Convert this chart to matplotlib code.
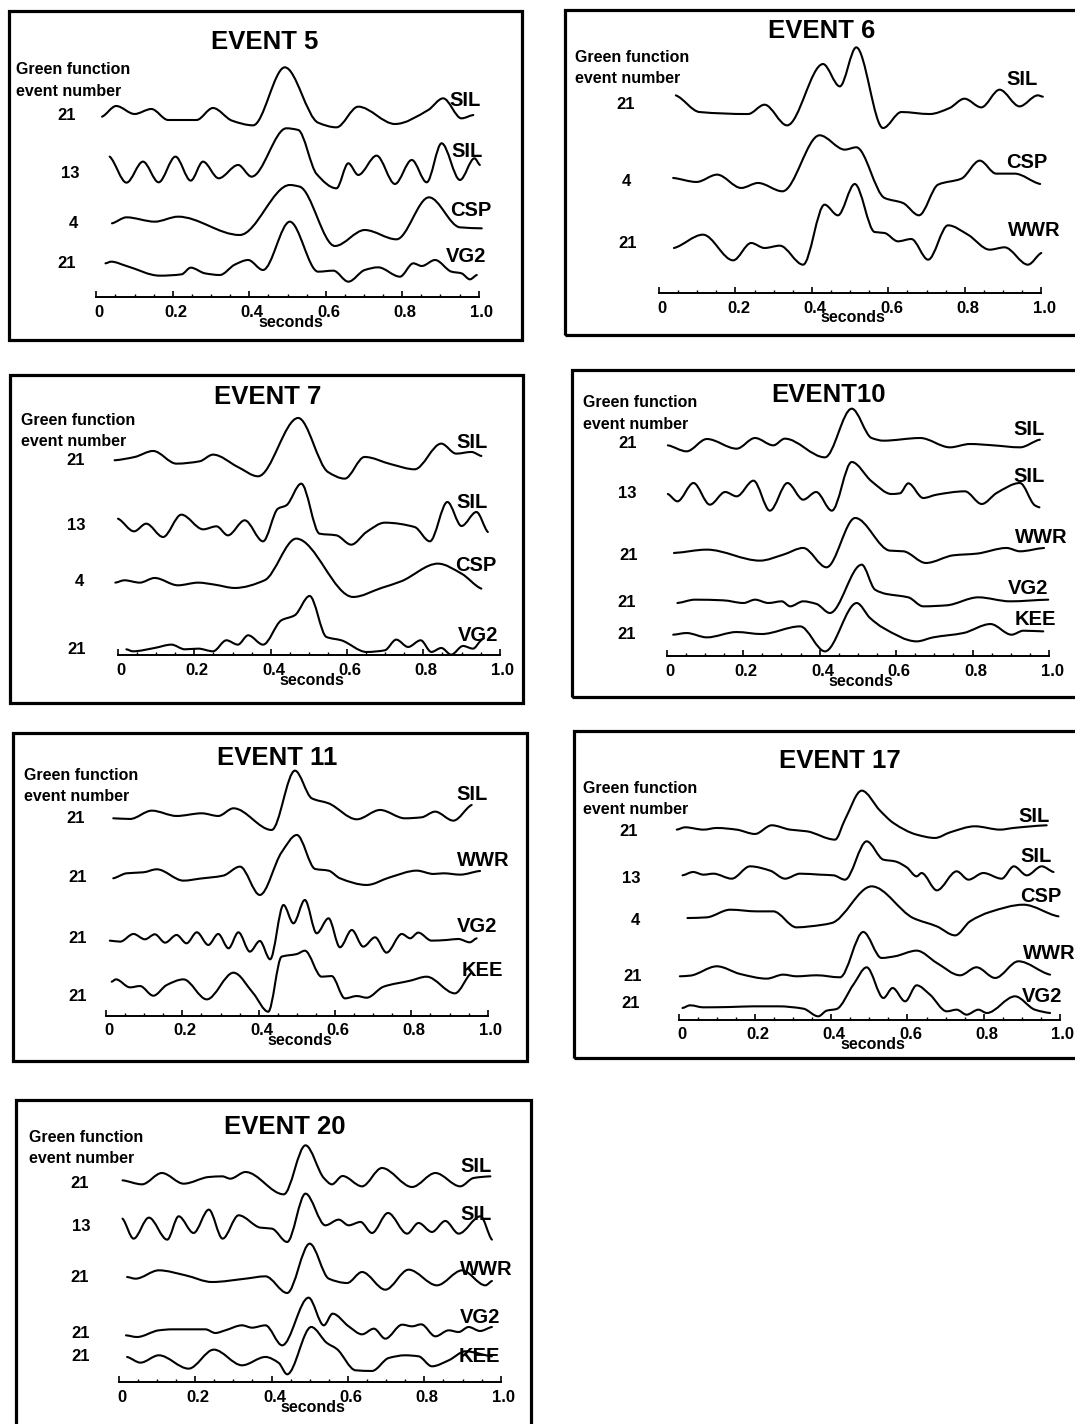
import numpy as np
import matplotlib
matplotlib.use('Agg')
import matplotlib.pyplot as plt
from matplotlib.path import Path
from matplotlib.patches import PathPatch, Rectangle
from matplotlib.transforms import ScaledTranslation

plt.rcParams['font.family'] = ['Liberation Sans', 'DejaVu Sans']

# ---- data: times (s) and amplitudes (arbitrary units) ----
ev5_green = ['21', '13', '4', '21']
ev5_stations = ['SIL', 'SIL', 'CSP', 'VG2']
ev5_t = [
    [0.015, 0.052, 0.100, 0.144, 0.188, 0.262, 0.305, 0.355, 0.410, 0.493, 0.580, 0.628, 0.685, 0.781, 0.868, 0.907, 0.955, 0.986],
    [0.035, 0.079, 0.122, 0.163, 0.207, 0.247, 0.279, 0.320, 0.371, 0.406, 0.497, 0.528, 0.576, 0.628, 0.659, 0.685, 0.733, 0.781, 0.825, 0.864, 0.903, 0.951, 0.989, 1.003],
    [0.041, 0.079, 0.153, 0.214, 0.375, 0.506, 0.532, 0.624, 0.702, 0.785, 0.870, 0.951, 1.008],
    [0.024, 0.039, 0.079, 0.166, 0.223, 0.247, 0.284, 0.323, 0.362, 0.397, 0.436, 0.506, 0.580, 0.620, 0.659, 0.702, 0.737, 0.794, 0.829, 0.851, 0.886, 0.929, 0.955, 0.977, 0.995],
]
ev5_a = [
    [-2, 30, 6, 21, -12, -12, 24, -14, -28, 146, -20, -34, 28, -24, 18, 53, -7, 3],
    [50, -28, 35, -27, 50, -22, 35, -15, 25, -10, 135, 130, -2, -45, 30, -5, 53, -32, 40, -27, 90, -20, 45, 25],
    [2, 20, 7, 22, -33, 117, 112, -66, -18, -46, 80, -10, -13],
    [2, 7, -6, -35, -31, -11, -28, -33, -2, 12, -18, 127, -23, -20, -53, -18, -10, -38, 2, -6, 12, -23, -28, -46, -33],
]

ev6_green = ['21', '4', '21']
ev6_stations = ['SIL', 'CSP', 'WWR']
ev6_t = [
    [0.044, 0.106, 0.233, 0.276, 0.335, 0.429, 0.473, 0.516, 0.586, 0.634, 0.708, 0.760, 0.799, 0.843, 0.891, 0.943, 0.991, 1.004],
    [0.037, 0.098, 0.152, 0.215, 0.259, 0.323, 0.420, 0.486, 0.516, 0.590, 0.638, 0.680, 0.730, 0.791, 0.839, 0.882, 0.930, 0.997],
    [0.039, 0.115, 0.194, 0.241, 0.276, 0.316, 0.377, 0.433, 0.468, 0.512, 0.564, 0.590, 0.625, 0.660, 0.704, 0.756, 0.808, 0.865, 0.904, 0.965, 1.000],
]
ev6_a = [
    [28, -22, -28, 0, -62, 122, 55, 172, -70, -22, -28, -10, 18, -8, 45, -5, 28, 24],
    [10, -2, 20, -20, -5, -30, 138, 95, 102, -50, -65, -102, -10, 8, 62, 23, 23, -8],
    [-15, 25, -52, 0, -15, -8, -65, 115, 83, 177, 33, 30, 5, 12, -50, 53, 25, -20, -13, -65, -30],
]

ev7_green = ['21', '13', '4', '21']
ev7_stations = ['SIL', 'SIL', 'CSP', 'VG2']
ev7_t = [
    [-0.009, 0.044, 0.092, 0.153, 0.214, 0.249, 0.314, 0.367, 0.472, 0.550, 0.594, 0.646, 0.716, 0.777, 0.847, 0.886, 0.926, 0.952],
    [0.000, 0.042, 0.074, 0.118, 0.166, 0.223, 0.258, 0.288, 0.332, 0.380, 0.419, 0.441, 0.480, 0.528, 0.572, 0.611, 0.651, 0.699, 0.777, 0.817, 0.863, 0.900, 0.939, 0.969],
    [-0.007, 0.017, 0.057, 0.096, 0.157, 0.210, 0.253, 0.306, 0.384, 0.467, 0.616, 0.690, 0.742, 0.838, 0.900, 0.952],
    [0.022, 0.039, 0.096, 0.140, 0.175, 0.210, 0.249, 0.284, 0.314, 0.341, 0.380, 0.428, 0.463, 0.502, 0.546, 0.585, 0.651, 0.699, 0.729, 0.760, 0.793, 0.821, 0.847, 0.873, 0.904, 0.930, 0.952],
]
ev7_a = [
    [0, 10, 28, -10, -3, 17, -20, -48, 127, -35, -55, 10, -12, -27, 50, 20, 25, 13],
    [22, -16, 7, -33, 34, -10, -1, -28, 17, -46, 52, 62, 127, -23, -28, -56, -18, 10, -3, -46, 72, 0, 42, -18],
    [-4, 3, -4, 10, -12, -4, -10, -20, 3, 128, -47, -20, 0, 53, 23, -22],
    [0, -6, 4, 14, 0, 2, -6, 27, 14, 42, 14, 87, 102, 160, 37, 27, -8, -3, 29, 7, 27, -8, 4, -16, 10, 2, 27],
]

ev10_green = ['21', '13', '21', '21', '21']
ev10_stations = ['SIL', 'SIL', 'WWR', 'VG2', 'KEE']
ev10_t = [
    [0.003, 0.052, 0.105, 0.183, 0.231, 0.279, 0.309, 0.414, 0.484, 0.536, 0.567, 0.663, 0.741, 0.793, 0.854, 0.924, 0.976],
    [0.003, 0.028, 0.070, 0.113, 0.153, 0.183, 0.227, 0.270, 0.316, 0.357, 0.391, 0.432, 0.484, 0.536, 0.588, 0.610, 0.632, 0.671, 0.706, 0.780, 0.824, 0.863, 0.924, 0.963, 0.975],
    [0.019, 0.105, 0.244, 0.305, 0.357, 0.418, 0.493, 0.584, 0.619, 0.678, 0.750, 0.811, 0.889, 0.924, 0.987],
    [0.028, 0.074, 0.148, 0.201, 0.231, 0.266, 0.301, 0.323, 0.357, 0.392, 0.427, 0.510, 0.545, 0.575, 0.606, 0.632, 0.671, 0.732, 0.815, 0.898, 0.998],
    [0.017, 0.052, 0.105, 0.183, 0.248, 0.349, 0.414, 0.497, 0.532, 0.567, 0.654, 0.697, 0.776, 0.847, 0.902, 0.933, 0.985],
]
ev10_a = [
    [-4, -22, 15, -14, 18, -4, 16, -40, 106, 18, 10, 18, -10, 0, -4, -10, 13],
    [0, -22, 33, -32, 6, -7, 40, -50, 33, -17, 6, -50, 96, 38, 0, 2, 32, -12, -2, 8, -30, 3, 33, -34, -40],
    [7, 17, -16, 2, 22, -36, 112, 14, 12, -23, 0, 5, 22, 12, 22],
    [0, 10, 8, 0, 10, 0, 5, -10, 5, -3, -30, 115, 40, 27, 22, 17, -10, -7, 17, 5, 10],
    [0, 5, -8, 8, 2, 25, -50, 95, 50, 20, -20, -8, 5, 32, 0, 12, 10],
]

ev11_green = ['21', '21', '21', '21']
ev11_stations = ['SIL', 'WWR', 'VG2', 'KEE']
ev11_t = [
    [0.019, 0.063, 0.120, 0.185, 0.251, 0.294, 0.334, 0.434, 0.495, 0.539, 0.583, 0.657, 0.718, 0.783, 0.827, 0.862, 0.910, 0.958],
    [0.019, 0.054, 0.098, 0.133, 0.203, 0.246, 0.307, 0.351, 0.403, 0.460, 0.500, 0.548, 0.583, 0.613, 0.683, 0.744, 0.814, 0.858, 0.884, 0.928, 0.980],
    [0.010, 0.037, 0.072, 0.102, 0.128, 0.155, 0.185, 0.211, 0.238, 0.268, 0.294, 0.321, 0.347, 0.377, 0.403, 0.430, 0.465,
     0.491, 0.521, 0.552, 0.583, 0.613, 0.644, 0.674, 0.705, 0.735, 0.775, 0.797, 0.818, 0.853, 0.893, 0.923, 0.953, 0.971],
    [0.015, 0.026, 0.063, 0.089, 0.124, 0.159, 0.203, 0.264, 0.334, 0.386, 0.425, 0.460, 0.500, 0.521, 0.565, 0.591, 0.626, 0.657, 0.683, 0.727, 0.797, 0.840, 0.914, 0.958],
]
ev11_a = [
    [0, -2, 23, 7, 15, 7, 30, -35, 143, 60, 45, -3, 25, 0, 3, 20, -7, 40],
    [-3, 12, 15, 24, -10, -4, 5, 32, -53, 75, 127, 25, 20, -3, -23, 0, 20, 10, 12, 8, 19],
    [-7, -10, 13, -3, 12, -13, 10, -15, 18, -20, 13, -30, 18, -40, -8, -63, 100,
     45, 115, 15, 60, -27, 25, -25, 3, -43, 13, 0, 17, -7, -5, -2, -12, 0],
    [45, 52, 28, 32, 3, 35, 52, -8, 72, 10, -45, 120, 128, 138, 60, 62, -5, 2, -3, 30, 48, 60, 10, 72],
]

ev17_green = ['21', '13', '4', '21', '21']
ev17_stations = ['SIL', 'SIL', 'CSP', 'WWR', 'VG2']
ev17_t = [
    [-0.005, 0.017, 0.065, 0.100, 0.152, 0.200, 0.244, 0.292, 0.336, 0.410, 0.436, 0.480, 0.528, 0.563, 0.624, 0.672, 0.712, 0.777, 0.843, 0.878, 0.965],
    [0.010, 0.038, 0.065, 0.091, 0.139, 0.187, 0.240, 0.279, 0.318, 0.371, 0.406, 0.436, 0.493, 0.537, 0.567, 0.598, 0.624, 0.637, 0.677, 0.729, 0.760, 0.799, 0.847, 0.879, 0.913, 0.952, 0.983],
    [0.023, 0.073, 0.135, 0.205, 0.248, 0.309, 0.344, 0.401, 0.506, 0.615, 0.677, 0.725, 0.764, 0.816, 0.904, 0.996],
    [0.003, 0.030, 0.100, 0.161, 0.231, 0.274, 0.309, 0.362, 0.423, 0.484, 0.532, 0.567, 0.624, 0.677, 0.738, 0.781, 0.830, 0.891, 0.974],
    [0.010, 0.030, 0.065, 0.135, 0.196, 0.261, 0.327, 0.366, 0.388, 0.414, 0.458, 0.493, 0.537, 0.561, 0.594, 0.624, 0.659, 0.703, 0.729, 0.755, 0.786, 0.808, 0.882, 0.934, 0.974],
]
ev17_a = [
    [5, 12, 5, 10, 5, -8, 18, 5, 0, -25, 35, 122, 62, 25, -10, -20, -3, 15, 5, 10, 18],
    [8, 18, 10, 13, -2, 35, 22, -2, 13, 10, 8, -5, 110, 55, 50, 32, 5, 15, -37, 20, -5, 15, -2, 35, 8, 35, 18],
    [8, 10, 33, 28, 28, -20, -17, -7, 103, 8, -17, -44, -2, 26, 48, 13],
    [0, 2, 30, 7, -7, 5, 0, 3, -3, 133, 55, 60, 77, 40, 3, 27, -5, 45, 5],
    [-15, -7, -13, -12, -10, -10, -17, -40, -23, -18, 55, 107, 15, 45, 5, 53, 25, -25, -20, -35, -20, -30, 20, -20, -30],
]

ev20_green = ['21', '13', '21', '21', '21']
ev20_stations = ['SIL', 'SIL', 'WWR', 'VG2', 'KEE']
ev20_t = [
    [0.010, 0.061, 0.113, 0.170, 0.236, 0.271, 0.292, 0.332, 0.432, 0.489, 0.537, 0.558, 0.586, 0.637, 0.689, 0.768, 0.829, 0.894, 0.929, 0.973],
    [0.010, 0.039, 0.079, 0.127, 0.157, 0.196, 0.236, 0.272, 0.314, 0.371, 0.401, 0.441, 0.489, 0.541, 0.576, 0.602, 0.633, 0.663, 0.705, 0.755, 0.785, 0.820, 0.855, 0.890, 0.947, 0.977],
    [0.022, 0.044, 0.105, 0.175, 0.244, 0.332, 0.384, 0.441, 0.500, 0.550, 0.598, 0.637, 0.698, 0.759, 0.833, 0.899, 0.960, 0.977],
    [0.019, 0.048, 0.105, 0.140, 0.227, 0.253, 0.279, 0.323, 0.349, 0.384, 0.428, 0.497, 0.537, 0.560, 0.602, 0.637, 0.668, 0.698, 0.742, 0.768, 0.792, 0.829, 0.864, 0.890, 0.916, 0.946, 0.977],
    [0.022, 0.057, 0.105, 0.183, 0.249, 0.323, 0.384, 0.419, 0.441, 0.504, 0.545, 0.571, 0.620, 0.663, 0.707, 0.750, 0.785, 0.820, 0.864, 0.908, 0.977],
]
ev20_a = [
    [8, -4, 30, -2, 18, 20, 13, 33, -34, 113, 15, -4, 21, -10, 45, -12, 30, -10, 15, 20],
    [23, -37, 26, -40, 30, -20, 50, -37, 33, -4, -7, -47, 98, 3, 20, 3, 13, -20, 40, -22, 10, -17, 16, -22, 30, -40],
    [0, -5, 20, 5, -15, -5, 2, -48, 100, -5, -18, 15, -38, 22, -25, 20, -25, -12],
    [-7, -12, 8, 11, 11, 0, 8, 23, 16, 23, -37, 106, 23, 58, 20, -4, 13, -17, 25, 20, 26, -10, 8, 3, 18, 6, 18],
    [-2, -19, 3, -37, 20, -27, -2, -20, -54, 88, 40, 22, -42, -44, -5, 3, 0, -30, -12, 15, 0],
]

tick_vals = [0, 0.2, 0.4, 0.6, 0.8, 1.0]
tick_text = ['0', '0.2', '0.4', '0.6', '0.8', '1.0']

# ---- layout (pixel positions on the page) ----
layout = [
    dict(title='EVENT 5', box=(9, 11, 522, 340), t0=96.3, t1=478.7, axis_y=297.3, title_xy=(264.7, 41.7),
         gf=(16.5, 70, 91), bases=[116.0, 173.3, 224.0, 264.0], num_x=[76.3, 79.7, 78.0, 76.3],
         st_x=[449.7, 451, 449.7, 446], st_y=[100, 151.7, 210, 256.7]),
    dict(title='EVENT 6', box=(565, 10, 1090, 335), t0=659.0, t1=1041.3, axis_y=293.0, title_xy=(822, 31.3),
         gf=(574.7, 57.3, 78.7), bases=[104.7, 181.3, 243.0], num_x=[634.5, 630.7, 637.0],
         st_x=[1006.3, 1006.3, 1008], st_y=[79.7, 162, 231]),
    dict(title='EVENT 7', box=(10, 375, 523, 703), t0=118.0, t1=499.7, axis_y=655.3, title_xy=(268, 397),
         gf=(20.7, 420.3, 441.3), bases=[460.3, 526.0, 581.3, 649.3], num_x=[84.7, 85.3, 84.0, 86.3],
         st_x=[456.3, 456.3, 454.7, 458], st_y=[442, 502, 565.3, 635.3]),
    dict(title='EVENT10', box=(572, 370, 1090, 697), t0=666.7, t1=1049.0, axis_y=656.3, title_xy=(828.3, 394.7),
         gf=(582.7, 403, 424.7), bases=[444.0, 494.0, 555.3, 603.0, 634.7], num_x=[636.7, 636.7, 638.3, 635.7, 635.7],
         st_x=[1013.3, 1013.3, 1015, 1008.3, 1015], st_y=[429.7, 476.3, 538, 588.7, 619.7]),
    dict(title='EVENT 11', box=(13, 733, 527, 1061), t0=106.0, t1=487.7, axis_y=1015.7, title_xy=(276.7, 758.3),
         gf=(24, 775.7, 796.7), bases=[818.3, 877.3, 938.3, 996.7], num_x=[85.0, 87.3, 86.7, 86.7],
         st_x=[456.7, 456.7, 456.7, 461.7], st_y=[795, 860, 926.7, 970]),
    dict(title='EVENT 17', box=(574, 731, 1090, 1058), t0=678.7, t1=1060.0, axis_y=1019.7, title_xy=(840, 761.3),
         gf=(583.3, 788, 809.7), bases=[831.3, 878.0, 920.7, 976.3, 1003.0], num_x=[638.3, 640.7, 640.0, 641.7, 640.0],
         st_x=[1018.3, 1020, 1020, 1023.3, 1021.7], st_y=[816.3, 856.3, 896.3, 953, 996.3]),
    dict(title='EVENT 20', box=(16, 1100, 531, 1440), t0=118.7, t1=500.7, axis_y=1382.0, title_xy=(284.3, 1127),
         gf=(28.7, 1137, 1158.7), bases=[1183.0, 1226.3, 1277.0, 1333.0, 1356.3], num_x=[89.3, 90.3, 89.3, 90.3, 90.3],
         st_x=[460.3, 460.3, 460.3, 460.3, 458.7], st_y=[1167, 1214.3, 1269.7, 1317.7, 1356.3]),
]

panels = [
    (ev5_green, ev5_stations, ev5_t, ev5_a),
    (ev6_green, ev6_stations, ev6_t, ev6_a),
    (ev7_green, ev7_stations, ev7_t, ev7_a),
    (ev10_green, ev10_stations, ev10_t, ev10_a),
    (ev11_green, ev11_stations, ev11_t, ev11_a),
    (ev17_green, ev17_stations, ev17_t, ev17_a),
    (ev20_green, ev20_stations, ev20_t, ev20_a),
]

AMP = 1 / 3.0   # amplitude units -> page pixels
W, H = 1075, 1424
fig = plt.figure(figsize=(W / 100, H / 100), dpi=100)


def smooth_trace(t, y):
    # monotone cubic drawn as bezier segments through the read points
    t = np.asarray(t, float)
    y = np.asarray(y, float)
    h = np.diff(t)
    d = np.diff(y) / h
    m = np.zeros_like(t)
    m[0] = d[0] * 0.5
    m[-1] = d[-1] * 0.5
    for i in range(1, len(t) - 1):
        if d[i - 1] * d[i] > 0:
            w1 = 2 * h[i] + h[i - 1]
            w2 = h[i] + 2 * h[i - 1]
            m[i] = (w1 + w2) / (w1 / d[i - 1] + w2 / d[i])
    verts = [(t[0], y[0])]
    codes = [Path.MOVETO]
    for i in range(len(t) - 1):
        verts += [(t[i] + h[i] / 3, y[i] + m[i] * h[i] / 3),
                  (t[i + 1] - h[i] / 3, y[i + 1] - m[i + 1] * h[i] / 3),
                  (t[i + 1], y[i + 1])]
        codes += [Path.CURVE4] * 3
    return Path(verts, codes)


for lay, (green, stations, times, amps) in zip(layout, panels):
    L, T, R, B = lay['box']
    x0, x1 = lay['t0'], lay['t1']

    def sx(px):
        return (px - x0) / (x1 - x0)

    ax = fig.add_axes([L / W, 1 - B / H, (R - L) / W, (B - T) / H])
    ax.set_xlim(sx(L), sx(R))
    ax.set_ylim(B, T)
    ax.patch.set_visible(False)
    for s in ['left', 'right', 'top']:
        ax.spines[s].set_visible(False)
    ax.spines['bottom'].set_position(('data', lay['axis_y']))
    ax.spines['bottom'].set_bounds(0, 1)
    ax.spines['bottom'].set_linewidth(1.4)
    ax.set_yticks([])
    ax.set_xticks(tick_vals)
    ax.set_xticklabels(tick_text, fontsize=12, fontweight='bold')
    ax.set_xticks(np.arange(0, 1.001, 0.05), minor=True)
    ax.tick_params(axis='x', which='major', direction='in', length=4.5, width=1.2, pad=5.5)
    ax.tick_params(axis='x', which='minor', direction='in', length=2.5, width=1.0)
    shift = ScaledTranslation(3 / 100, 0, fig.dpi_scale_trans)
    for lbl in ax.get_xticklabels():
        lbl.set_transform(lbl.get_transform() + shift)

    ax.add_patch(Rectangle((0, 0), 1, 1, transform=ax.transAxes, fill=False,
                           lw=2.3, ec='black', clip_on=False))

    ax.text(sx(lay['title_xy'][0]), lay['title_xy'][1], lay['title'], ha='center', va='center',
            fontsize=18.5, fontweight='bold')
    gx, gy1, gy2 = lay['gf']
    ax.text(sx(gx), gy1, 'Green function', ha='left', va='center', fontsize=11.5, fontweight='bold')
    ax.text(sx(gx), gy2, 'event number', ha='left', va='center', fontsize=11.5, fontweight='bold')
    ax.text(0.508, lay['axis_y'] + 25, 'seconds', ha='center', va='center', fontsize=11.5, fontweight='bold')

    for k in range(len(green)):
        base = lay['bases'][k]
        yy = [base - a * AMP for a in amps[k]]
        ax.add_patch(PathPatch(smooth_trace(times[k], yy), fill=False, lw=1.5,
                               ec='black', capstyle='round', joinstyle='round'))
        ax.text(sx(lay['num_x'][k]), base, green[k], ha='right', va='center',
                fontsize=12, fontweight='bold')
        ax.text(sx(lay['st_x'][k]), lay['st_y'][k], stations[k], ha='left', va='center',
                fontsize=14.5, fontweight='bold')

fig.savefig('out.png', dpi=100)
